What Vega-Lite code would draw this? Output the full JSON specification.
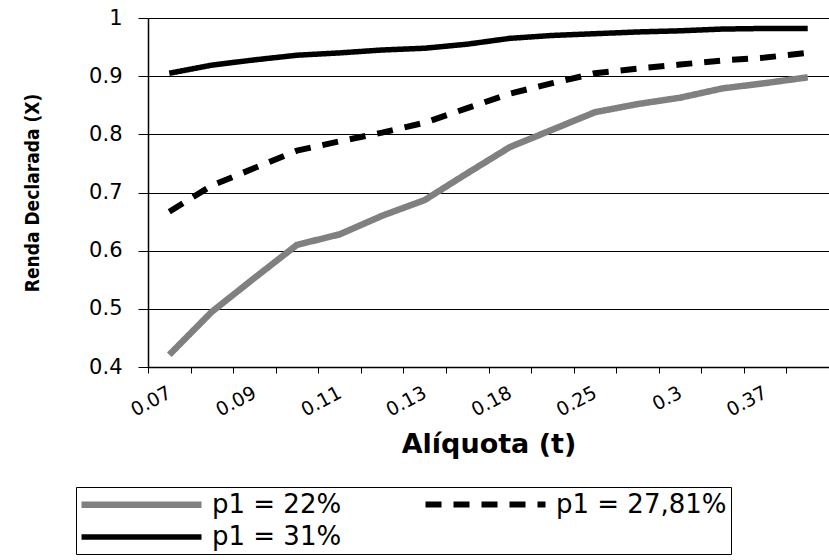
{
  "$schema": "https://vega.github.io/schema/vega-lite/v6.json",
  "width": 681,
  "height": 349,
  "autosize": {"type": "none"},
  "padding": {"left": 148, "top": 18, "right": 0, "bottom": 193},
  "background": "white",
  "config": {
    "view": {"stroke": null},
    "font": "DejaVu Sans"
  },
  "data": {
    "values": [
      {"t": "0.07", "s": "p1 = 22%", "x": 0.421},
      {"t": "0.08", "s": "p1 = 22%", "x": 0.495},
      {"t": "0.09", "s": "p1 = 22%", "x": 0.553},
      {"t": "0.1", "s": "p1 = 22%", "x": 0.610},
      {"t": "0.11", "s": "p1 = 22%", "x": 0.628},
      {"t": "0.12", "s": "p1 = 22%", "x": 0.660},
      {"t": "0.13", "s": "p1 = 22%", "x": 0.687},
      {"t": "0.15", "s": "p1 = 22%", "x": 0.733},
      {"t": "0.18", "s": "p1 = 22%", "x": 0.778},
      {"t": "0.21", "s": "p1 = 22%", "x": 0.808},
      {"t": "0.25", "s": "p1 = 22%", "x": 0.838},
      {"t": "0.27", "s": "p1 = 22%", "x": 0.852},
      {"t": "0.3", "s": "p1 = 22%", "x": 0.863},
      {"t": "0.33", "s": "p1 = 22%", "x": 0.879},
      {"t": "0.37", "s": "p1 = 22%", "x": 0.888},
      {"t": "0.4", "s": "p1 = 22%", "x": 0.898},
      {"t": "0.07", "s": "p1 = 27,81%", "x": 0.667},
      {"t": "0.08", "s": "p1 = 27,81%", "x": 0.712},
      {"t": "0.09", "s": "p1 = 27,81%", "x": 0.742},
      {"t": "0.1", "s": "p1 = 27,81%", "x": 0.772},
      {"t": "0.11", "s": "p1 = 27,81%", "x": 0.788},
      {"t": "0.12", "s": "p1 = 27,81%", "x": 0.803},
      {"t": "0.13", "s": "p1 = 27,81%", "x": 0.820},
      {"t": "0.15", "s": "p1 = 27,81%", "x": 0.845},
      {"t": "0.18", "s": "p1 = 27,81%", "x": 0.870},
      {"t": "0.21", "s": "p1 = 27,81%", "x": 0.888},
      {"t": "0.25", "s": "p1 = 27,81%", "x": 0.905},
      {"t": "0.27", "s": "p1 = 27,81%", "x": 0.913},
      {"t": "0.3", "s": "p1 = 27,81%", "x": 0.920},
      {"t": "0.33", "s": "p1 = 27,81%", "x": 0.927},
      {"t": "0.37", "s": "p1 = 27,81%", "x": 0.932},
      {"t": "0.4", "s": "p1 = 27,81%", "x": 0.940},
      {"t": "0.07", "s": "p1 = 31%", "x": 0.905},
      {"t": "0.08", "s": "p1 = 31%", "x": 0.919},
      {"t": "0.09", "s": "p1 = 31%", "x": 0.928},
      {"t": "0.1", "s": "p1 = 31%", "x": 0.936},
      {"t": "0.11", "s": "p1 = 31%", "x": 0.940},
      {"t": "0.12", "s": "p1 = 31%", "x": 0.945},
      {"t": "0.13", "s": "p1 = 31%", "x": 0.948},
      {"t": "0.15", "s": "p1 = 31%", "x": 0.955},
      {"t": "0.18", "s": "p1 = 31%", "x": 0.965},
      {"t": "0.21", "s": "p1 = 31%", "x": 0.970},
      {"t": "0.25", "s": "p1 = 31%", "x": 0.973},
      {"t": "0.27", "s": "p1 = 31%", "x": 0.976},
      {"t": "0.3", "s": "p1 = 31%", "x": 0.978},
      {"t": "0.33", "s": "p1 = 31%", "x": 0.981},
      {"t": "0.37", "s": "p1 = 31%", "x": 0.982},
      {"t": "0.4", "s": "p1 = 31%", "x": 0.982}
    ]
  },
  "mark": {"type": "line", "strokeJoin": "miter"},
  "encoding": {
    "x": {
      "field": "t",
      "type": "ordinal",
      "scale": {
        "type": "band",
        "paddingInner": 0,
        "paddingOuter": 0,
        "domain": ["0.07","0.08","0.09","0.1","0.11","0.12","0.13","0.15","0.18","0.21","0.25","0.27","0.3","0.33","0.37","0.4"]
      },
      "axis": {
        "title": "Alíquota (t)",
        "titleFont": "DejaVu Sans",
        "titleFontSize": 27,
        "titleFontWeight": "bold",
        "titleColor": "#000000",
        "titlePadding": 12,
        "tickBand": "extent",
        "tickSize": 6,
        "tickColor": "#000000",
        "domainColor": "#000000",
        "domainWidth": 1.5,
        "labelAngle": -28,
        "labelAlign": "right",
        "labelBaseline": "middle",
        "labelPadding": 18,
        "labelDx": -30,
        "labelFontSize": 19,
        "labelColor": "#000000",
        "labelExpr": "indexof(['0.07','0.09','0.11','0.13','0.18','0.25','0.3','0.37'], datum.value) >= 0 ? datum.label : ''",
        "grid": false
      }
    },
    "y": {
      "field": "x",
      "type": "quantitative",
      "scale": {"domain": [0.4, 1], "nice": false, "zero": false},
      "axis": {
        "title": "Renda Declarada (X)",
        "titleFont": "DejaVu Sans Condensed, Liberation Sans",
        "titleFontSize": 19,
        "titleFontWeight": "bold",
        "titleColor": "#000000",
        "titlePadding": 46,
        "values": [0.4, 0.5, 0.6, 0.7, 0.8, 0.9, 1],
        "format": "~g",
        "labelFontSize": 21,
        "labelColor": "#000000",
        "labelPadding": 16,
        "tickSize": 10,
        "tickColor": "#000000",
        "domainColor": "#000000",
        "domainWidth": 1.5,
        "grid": true,
        "gridColor": "#000000",
        "gridWidth": 1
      }
    },
    "color": {
      "field": "s",
      "type": "nominal",
      "scale": {"domain": ["p1 = 22%", "p1 = 27,81%", "p1 = 31%"], "range": ["#808080", "#000000", "#000000"]},
      "legend": {
        "title": null,
        "orient": "none",
        "legendX": -72,
        "legendY": 469,
        "direction": "horizontal",
        "columns": 2,
        "columnPadding": 71,
        "rowPadding": 6,
        "padding": 4,
        "strokeColor": "#000000",
        "fillColor": "#ffffff",
        "symbolType": "M-6,0H6",
        "symbolSize": 400,
        "symbolOffset": 48,
        "labelFontSize": 26,
        "labelLimit": 400,
        "labelColor": "#000000",
        "labelOffset": 57,
        "labelFont": "DejaVu Sans"
      }
    },
    "strokeDash": {
      "field": "s",
      "type": "nominal",
      "scale": {"domain": ["p1 = 22%", "p1 = 27,81%", "p1 = 31%"], "range": [[1, 0], [16, 12], [1, 0]]}
    },
    "strokeWidth": {
      "field": "s",
      "type": "nominal",
      "scale": {"domain": ["p1 = 22%", "p1 = 27,81%", "p1 = 31%"], "range": [6.5, 5.5, 4]}
    }
  }
}
